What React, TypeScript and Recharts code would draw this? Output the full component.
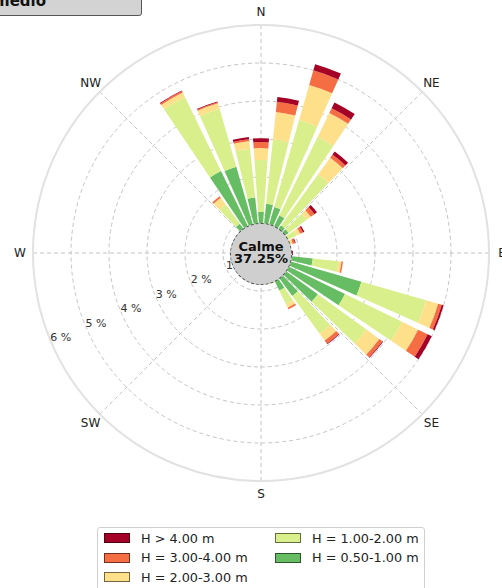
import React from 'react';
import {
  RadialBarChart,
  RadialBar,
  PolarAngleAxis,
  PolarRadiusAxis,
  PolarGrid,
} from 'recharts';

// wave directions (deg from N, clockwise), 10 deg sectors
const directions = [
  0, 10, 20, 30, 40, 50, 60, 70, 80, 90, 100, 110, 120, 130, 140, 150, 160, 170,
  180, 190, 200, 210, 220, 230, 240, 250, 260, 270, 280, 290, 300, 310, 320, 330, 340, 350,
];

// frequency (%) per height class
const h050_100 = [
  1.08, 1.3, 1.26, 1.1, 0.9, 0.9, 0.8, 0.65, 0.55, 0.55, 1.37, 2.75, 2.46, 1.85, 1.4, 1.1, 0.7, 0.55,
  0.45, 0.35, 0.3, 0.25, 0.25, 0.25, 0.3, 0.3, 0.35, 0.4, 0.45, 0.5, 0.55, 0.62, 0.95, 2.4, 2.36, 1.47,
];
const h100_200 = [
  1.37, 1.7, 2.38, 2.3, 1.66, 0.59, 0.25, 0.12, 0.12, 0.15, 0.68, 1.77, 1.67, 1.58, 1.23, 0.4, 0.13, 0.1,
  0.1, 0.05, 0.05, 0.05, 0.05, 0.05, 0.05, 0.05, 0.05, 0.05, 0.05, 0.08, 0.1, 0.12, 0.62, 2.17, 1.59, 1.29,
];
const h200_300 = [
  0.31, 0.73, 0.96, 0.7, 0.54, 0.13, 0.1, 0.1, 0.05, 0.06, 0.08, 0.33, 0.47, 0.42, 0.22, 0.1, 0.02, 0,
  0, 0, 0, 0, 0, 0, 0, 0, 0, 0, 0, 0, 0, 0.02, 0.23, 0.13, 0.15, 0.2,
];
const h300_400 = [
  0.16, 0.27, 0.4, 0.14, 0.1, 0.12, 0.08, 0.06, 0.02, 0.05, 0.04, 0.1, 0.28, 0.1, 0.1, 0.05, 0, 0,
  0, 0, 0, 0, 0, 0, 0, 0, 0, 0, 0, 0, 0, 0, 0.05, 0.04, 0.03, 0.05,
];
const h400 = [
  0.1, 0.13, 0.17, 0.17, 0.1, 0.08, 0.04, 0.02, 0.01, 0.03, 0, 0.05, 0.12, 0.02, 0.02, 0, 0, 0,
  0, 0, 0, 0, 0, 0, 0, 0, 0, 0, 0, 0, 0, 0, 0, 0.02, 0.02, 0.06,
];

const compassTicks = [0, 45, 90, 135, 180, 225, 270, 315];
const compassLabels = ['N', 'NE', 'E', 'SE', 'S', 'SW', 'W', 'NW'];
const radiusTicks = [1, 2, 3, 4, 5, 6];
const calmPct = '37.25%';

const series = [
  { key: 'h1', name: 'H = 0.50-1.00 m', color: '#66bd63' },
  { key: 'h2', name: 'H = 1.00-2.00 m', color: '#d9ef8b' },
  { key: 'h3', name: 'H = 2.00-3.00 m', color: '#fee08b' },
  { key: 'h4', name: 'H = 3.00-4.00 m', color: '#f46d43' },
  { key: 'h5', name: 'H > 4.00 m', color: '#a50026' },
];

const data = directions.map((d, i) => ({
  dir: d,
  h1: h050_100[i],
  h2: h100_200[i],
  h3: h200_300[i],
  h4: h300_400[i],
  h5: h400[i],
}));

const FONT = '"DejaVu Sans", Verdana, sans-serif';
const CX = 261;
const CY = 253;
const OUTER = 228;
const LABEL_R = 241;

// recharts angles: 0 = east, counter-clockwise
const gridAngles = compassTicks.map((c) => 90 - c);

const RadiusTick = (p: any) => (
  <text x={p.x} y={p.y + 1} textAnchor="start" fontFamily={FONT} fontSize={11} fill="#333">
    {`${p.payload.value} %`}
  </text>
);

// legend order: column 1 then column 2
const legendOrder = ['h5', 'h4', 'h3', 'h2', 'h1'];

export default function App() {
  return (
    <div style={{ position: 'absolute', left: 0, top: 0, width: 502, height: 588, overflow: 'hidden', background: '#fff' }}>
      <RadialBarChart
        width={502}
        height={588}
        data={data}
        cx={CX}
        cy={CY}
        innerRadius={0}
        outerRadius={OUTER}
        startAngle={85}
        endAngle={-275}
        layout="centric"
        margin={{ top: 0, right: 0, bottom: 0, left: 0 }}
      >
        <PolarAngleAxis dataKey="dir" type="category" tick={false} axisLine={false} tickLine={false} />
        <PolarRadiusAxis
          type="number"
          domain={[0, 6]}
          ticks={radiusTicks}
          angle={202.5}
          axisLine={false}
          tickLine={false}
          tick={RadiusTick}
        />
        <PolarGrid gridType="circle" polarAngles={gridAngles} stroke="#c4c4c4" strokeDasharray="4 3" />
        <PolarGrid gridType="circle" polarRadius={[OUTER]} polarAngles={[]} radialLines={false} stroke="#e2e2e2" strokeWidth={2} />
        {series.map((s) => (
          <RadialBar key={s.key} dataKey={s.key} stackId="a" fill={s.color} isAnimationActive={false} />
        ))}
      </RadialBarChart>

      {/* compass labels */}
      <svg width={502} height={588} style={{ position: 'absolute', left: 0, top: 0, pointerEvents: 'none' }}>
        {compassTicks.map((c, i) => {
          const a = (c * Math.PI) / 180;
          return (
            <text key={c} x={CX + LABEL_R * Math.sin(a)} y={CY - LABEL_R * Math.cos(a)}
              textAnchor="middle" dominantBaseline="central" fontFamily={FONT} fontSize={12} fill="#222">
              {compassLabels[i]}
            </text>
          );
        })}
      </svg>

      {/* calm circle */}
      <div style={{
        position: 'absolute', left: CX - 31, top: CY - 30, width: 62, height: 62, boxSizing: 'border-box',
        borderRadius: '50%', background: '#cfcfcf', border: '1px dashed #555',
        display: 'flex', flexDirection: 'column', alignItems: 'center', justifyContent: 'center',
        fontFamily: FONT, fontWeight: 'bold', fontSize: 13, lineHeight: '12px', color: '#111',
      }}>
        <div style={{ marginTop: -3 }}>Calme</div>
        <div>{calmPct}</div>
      </div>

      {/* title box */}
      <div style={{
        position: 'absolute', left: -40, top: -6, width: 182, height: 22, boxSizing: 'border-box',
        background: '#d3d3d3', border: '1px solid #555', borderRadius: 3,
      }}>
        <span style={{ position: 'absolute', left: 33, top: -3, fontFamily: FONT, fontWeight: 'bold', fontSize: 15, color: '#111' }}>
          medio
        </span>
      </div>

      {/* legend */}
      <div style={{
        position: 'absolute', left: 97, top: 527, width: 328, height: 66, boxSizing: 'border-box',
        border: '1px solid #d0d0d0', borderRadius: 3, background: '#fff', fontFamily: FONT, fontSize: 12.8, color: '#222',
      }}>
        {legendOrder.map((k, i) => {
          const s = series.find((x) => x.key === k)!;
          const col = i < 3 ? 0 : 1;
          const row = i < 3 ? i : i - 3;
          return (
            <div key={k} style={{ position: 'absolute', left: col === 0 ? 6 : 177, top: 2 + row * 19.5, height: 16, display: 'flex', alignItems: 'center' }}>
              <div style={{ width: 26, height: 10, background: s.color, border: '1px solid rgba(0,0,0,0.55)', boxSizing: 'border-box' }} />
              <span style={{ marginLeft: 11, whiteSpace: 'nowrap' }}>{s.name}</span>
            </div>
          );
        })}
      </div>
    </div>
  );
}
